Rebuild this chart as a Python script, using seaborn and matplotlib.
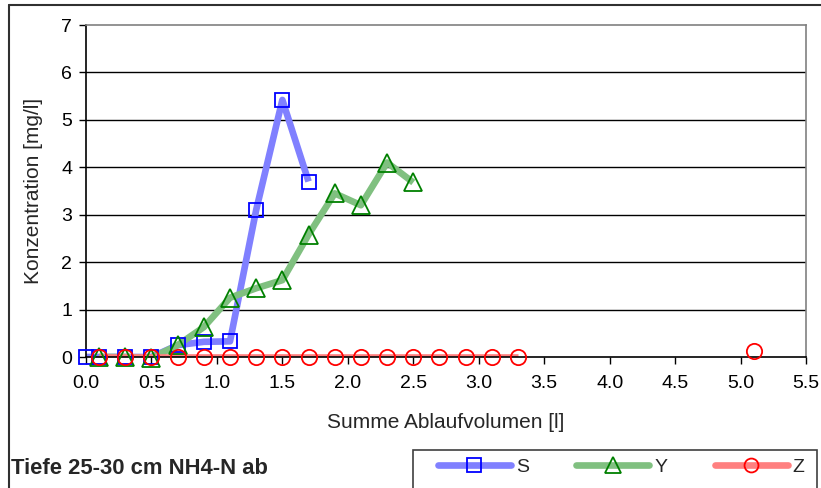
import numpy as np
import pandas as pd
import matplotlib
matplotlib.use("Agg")
import matplotlib.pyplot as plt
from matplotlib.lines import Line2D
from matplotlib.patches import Rectangle
import seaborn as sns

# Data
s_x = [0.0, 0.1, 0.3, 0.5, 0.7, 0.9, 1.1, 1.3, 1.5, 1.7]
s_y = [0.0, 0.0, 0.0, 0.0, 0.25, 0.32, 0.33, 3.1, 5.42, 3.7]

y_x = [0.1, 0.3, 0.5, 0.7, 0.9, 1.1, 1.3, 1.5, 1.7, 1.9, 2.1, 2.3, 2.5]
y_y = [0.0, 0.0, -0.02, 0.25, 0.63, 1.25, 1.45, 1.62, 2.58, 3.45, 3.2, 4.1, 3.68]

z_x = [0.1, 0.3, 0.5, 0.7, 0.9, 1.1, 1.3, 1.5, 1.7, 1.9, 2.1, 2.3, 2.5, 2.7,
       2.9, 3.1, 3.3, 5.1]
z_y = [0.0] * 17 + [0.12]

series_names = ["S", "Y", "Z"]
line_colors = ["#8080ff", "#80c080", "#ff8080"]
edge_colors = ["#0000ff", "#008000", "#ff0000"]
markers = ["s", "^", "o"]
marker_sizes = [10.5, 12.5, 11]

x_ticks = np.arange(0, 5.51, 0.5)
y_ticks = list(range(0, 8))

sns.set_style("white")
plt.rcParams["font.family"] = ["Liberation Sans", "DejaVu Sans"]

fig = plt.figure(figsize=(8.21, 4.88), dpi=100)
ax = fig.add_axes([86 / 821, 1 - 357 / 488, 720 / 821, 332 / 488])

for name, xs, ys, lc, ec, mk, ms in zip(series_names, [s_x, y_x, z_x], [s_y, y_y, z_y],
                                        line_colors, edge_colors, markers, marker_sizes):
    df = pd.DataFrame({"x": xs, "y": ys})
    # measurements further apart than one step are not connected
    df["seg"] = (df["x"].diff() > 0.3).cumsum()
    sns.lineplot(data=df, x="x", y="y", units="seg", estimator=None, sort=False,
                 ax=ax, color=lc, linewidth=4.8, solid_capstyle="butt", zorder=2)
    ax.plot(df["x"], df["y"], linestyle="none", marker=mk, markersize=ms,
            markerfacecolor="none", markeredgecolor=ec, markeredgewidth=1.3,
            zorder=3, clip_on=False)

ax.set_xlim(0, 5.5)
ax.set_ylim(0, 7)
ax.set_xticks(x_ticks)
ax.set_xticklabels([f"{t:.1f}" for t in x_ticks])
ax.set_yticks(y_ticks)
ax.tick_params(axis="both", direction="out", length=5, width=1, colors="black",
               labelsize=14, left=True, bottom=True)
ax.tick_params(axis="x", pad=8)
ax.tick_params(axis="y", pad=5)

for yv in y_ticks[1:-1]:
    ax.axhline(yv, color="black", linewidth=1, zorder=1)

ax.spines["left"].set_color("black")
ax.spines["bottom"].set_color("black")
ax.spines["top"].set_color("#808080")
ax.spines["right"].set_color("#808080")
for sp in ax.spines.values():
    sp.set_linewidth(1.2)
    sp.set_visible(True)

ax.set_xlabel("Summe Ablaufvolumen [l]", fontsize=15, labelpad=15)
ax.set_ylabel("Konzentration [mg/l]", fontsize=15, labelpad=13)

# outer chart border
fig.add_artist(Line2D([9 / 821, 1.0], [1 - 5 / 488, 1 - 5 / 488], color="#303030",
                      linewidth=1.5, transform=fig.transFigure))
fig.add_artist(Line2D([9 / 821, 9 / 821], [0, 1 - 5 / 488], color="#303030",
                      linewidth=1.5, transform=fig.transFigure))

fig.text(11 / 821, 1 - 468 / 488, "Tiefe 25-30 cm NH4-N ab", fontsize=15.8,
         fontweight="bold", va="center", ha="left")

# legend box cut by the bottom edge
fig.add_artist(Rectangle((413 / 821, -0.05), (817 - 413) / 821, 0.05 + 1 - 450 / 488,
                         transform=fig.transFigure, facecolor="white",
                         edgecolor="#404040", linewidth=1.2))
handles = [Line2D([], [], color=lc, linewidth=4.8, marker=mk, markersize=ms - 1,
                  markerfacecolor="none", markeredgecolor=ec, markeredgewidth=1.3)
           for lc, ec, mk, ms in zip(line_colors, edge_colors, markers, marker_sizes)]
fig.legend(handles, series_names, loc="center left",
           bbox_to_anchor=(438 / 821, 1 - 467 / 488), ncol=3, frameon=False,
           fontsize=14, handlelength=3.75, handletextpad=0.25, columnspacing=2.45,
           borderpad=0, borderaxespad=0)

fig.savefig("out.png", dpi=100)
